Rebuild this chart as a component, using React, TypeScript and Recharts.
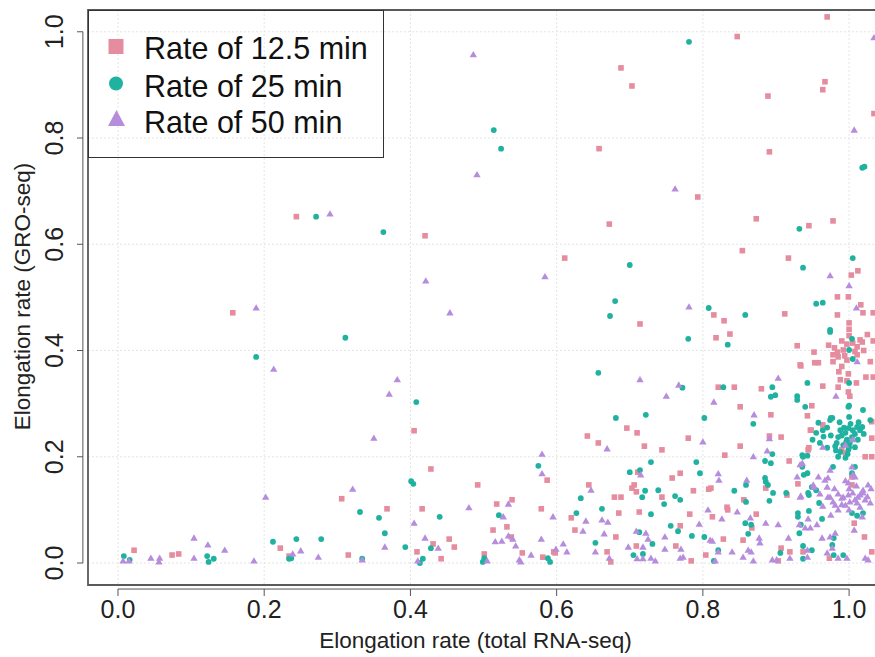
import React from "react";
import {
  ScatterChart,
  Scatter,
  XAxis,
  YAxis,
  CartesianGrid,
  ReferenceArea,
  ReferenceLine,
  Legend,
  Label,
} from "recharts";

const FONT = "'Liberation Sans', Arial, sans-serif";

const X_TICKS = [0, 0.2, 0.4, 0.6, 0.8, 1.0];
const Y_TICKS = [0, 0.2, 0.4, 0.6, 0.8, 1.0];

const X_DOMAIN: [number, number] = [-0.041, 1.045];
const Y_DOMAIN: [number, number] = [-0.0414, 1.041];

const SERIES_NAMES = ["Rate of 12.5 min", "Rate of 25 min", "Rate of 50 min"];
const SERIES_COLORS = ["#E68C9F", "#20B2A0", "#B68DDD"];

// [total RNA-seq rate, GRO-seq rate]
const RATE_12_5: [number, number][] = [
  [0.97, 1.028], [0.847, 0.991], [0.688, 0.932], [0.703, 0.898], [0.889, 0.879],
  [0.964, 0.891], [0.967, 0.906], [1.034, 0.846], [0.658, 0.78], [0.891, 0.774],
  [0.793, 0.689], [0.672, 0.638], [0.873, 0.648], [0.945, 0.635], [0.978, 0.644],
  [0.611, 0.574], [0.854, 0.588], [0.917, 0.574], [1.003, 0.542], [1.012, 0.55],
  [0.984, 0.501], [0.999, 0.501], [1.016, 0.486], [1.019, 0.471], [0.815, 0.467],
  [0.829, 0.456], [0.912, 0.469], [0.984, 0.467], [1.0, 0.452], [0.714, 0.45],
  [1.033, 0.471], [0.244, 0.652], [0.42, 0.616], [0.157, 0.471],
  [0.818, 0.424], [0.837, 0.431], [0.929, 0.409], [0.997, 0.412], [1.005, 0.414],
  [1.015, 0.42], [0.992, 0.401], [0.984, 0.397], [0.978, 0.392], [0.985, 0.388],
  [0.997, 0.382], [1.011, 0.392], [1.018, 0.416], [1.011, 0.407], [1.033, 0.418],
  [0.952, 0.397], [0.953, 0.377], [0.958, 0.377], [0.934, 0.371], [0.978, 0.379],
  [1.023, 0.35], [1.033, 0.35], [0.986, 0.36], [0.999, 0.356], [0.988, 0.345],
  [0.997, 0.343], [1.01, 0.339], [0.985, 0.331], [0.964, 0.333], [0.88, 0.328],
  [0.843, 0.331], [0.821, 0.331], [0.851, 0.294], [0.893, 0.279], [0.949, 0.296],
  [0.943, 0.277], [0.999, 0.322], [1.001, 0.314], [0.933, 0.373], [1.029, 0.379],
  [0.99, 0.418], [1.0, 0.428], [1.008, 0.398], [0.994, 0.39], [0.98, 0.405],
  [1.02, 0.4], [0.972, 0.41], [1.0, 0.44], [0.99, 0.37], [1.025, 0.43],
  [0.947, 0.25], [0.964, 0.26], [1.031, 0.266], [1.031, 0.235], [0.944, 0.213],
  [1.022, 0.2], [1.031, 0.2], [1.004, 0.162], [0.99, 0.213], [0.948, 0.25],
  [0.891, 0.239], [0.907, 0.237], [0.851, 0.22], [0.83, 0.203], [0.918, 0.192],
  [0.945, 0.217], [0.995, 0.207], [1.004, 0.147], [0.811, 0.141], [0.886, 0.141],
  [0.915, 0.128], [0.856, 0.119], [0.93, 0.149], [1.007, 0.075], [1.021, 0.049],
  [0.833, 0.105], [0.834, 0.1], [0.813, 0.087], [0.873, 0.092], [0.867, 0.066],
  [0.855, 0.043], [0.828, 0.045], [0.907, 0.028], [0.919, 0.021], [0.937, 0.021],
  [0.973, 0.009], [0.903, 0.004], [1.031, 0.021],
  [0.696, 0.254], [0.71, 0.245], [0.642, 0.239], [0.657, 0.226], [0.72, 0.22],
  [0.744, 0.213], [0.78, 0.235], [0.711, 0.171], [0.758, 0.16], [0.769, 0.169],
  [0.644, 0.147], [0.703, 0.141], [0.706, 0.147], [0.709, 0.134], [0.679, 0.124],
  [0.688, 0.124], [0.744, 0.124], [0.787, 0.136], [0.808, 0.139], [0.62, 0.085],
  [0.685, 0.094], [0.713, 0.096], [0.782, 0.092], [0.625, 0.062], [0.681, 0.049],
  [0.769, 0.07], [0.598, 0.019], [0.669, 0.021], [0.674, 0.002], [0.709, 0.032],
  [0.763, 0.032], [0.784, 0.004], [0.804, 0.015],
  [0.405, 0.249], [0.428, 0.177], [0.306, 0.121], [0.368, 0.102], [0.416, 0.102],
  [0.453, 0.045], [0.431, 0.036], [0.46, 0.03], [0.315, 0.015], [0.409, 0.021],
  [0.442, 0.008], [0.492, 0.147], [0.518, 0.111], [0.539, 0.119], [0.532, 0.068],
  [0.513, 0.062], [0.538, 0.049], [0.553, 0.019], [0.501, 0.017], [0.587, 0.156],
  [0.579, 0.102], [0.581, 0.011], [0.596, 0.021],
  [0.022, 0.024], [0.074, 0.015], [0.083, 0.017], [0.222, 0.028], [0.234, 0.013],
];

const RATE_25: [number, number][] = [
  [0.781, 0.981], [0.514, 0.815], [0.524, 0.78], [1.021, 0.746], [1.018, 0.744],
  [0.271, 0.652], [0.363, 0.623], [0.7, 0.561], [0.68, 0.493], [0.673, 0.465],
  [0.808, 0.48], [0.858, 0.467], [0.955, 0.488], [0.964, 0.49], [1.005, 0.574],
  [0.937, 0.556], [0.932, 0.629], [0.78, 0.422], [0.657, 0.358], [0.772, 0.33],
  [0.681, 0.273], [0.722, 0.279], [0.802, 0.273], [0.834, 0.411], [0.974, 0.435],
  [1.004, 0.422], [1.0, 0.401], [1.005, 0.384], [1.0, 0.339], [0.943, 0.339],
  [0.895, 0.331], [0.899, 0.316], [0.893, 0.313], [0.828, 0.331], [0.929, 0.314],
  [0.929, 0.307], [0.94, 0.294], [1.0, 0.296], [1.019, 0.288], [1.0, 0.275],
  [0.975, 0.273], [0.189, 0.388], [0.311, 0.424],
  [0.988, 0.25], [0.995, 0.245], [0.999, 0.254], [1.004, 0.237], [1.005, 0.25],
  [1.011, 0.256], [1.015, 0.25], [0.997, 0.232], [1.001, 0.226], [0.992, 0.222],
  [1.008, 0.218], [0.999, 0.213], [0.985, 0.237], [0.974, 0.269], [0.977, 0.273],
  [0.964, 0.25], [0.96, 0.226], [0.97, 0.217], [0.958, 0.264], [0.985, 0.2],
  [0.978, 0.181], [0.999, 0.294], [1.018, 0.256], [1.029, 0.269], [0.937, 0.2],
  [0.943, 0.202], [0.936, 0.181], [0.938, 0.166], [0.944, 0.132], [0.949, 0.143],
  [0.959, 0.113], [1.008, 0.181], [1.004, 0.169], [0.974, 0.439],
  [0.99, 0.24], [0.993, 0.255], [1.002, 0.262], [1.008, 0.243], [0.996, 0.228],
  [1.012, 0.232], [0.983, 0.226], [1.0, 0.218], [0.975, 0.24], [0.97, 0.255],
  [1.013, 0.265], [0.987, 0.265], [0.965, 0.238], [1.02, 0.243], [0.998, 0.205],
  [0.982, 0.212], [0.955, 0.245], [0.95, 0.232],
  [0.869, 0.262], [0.885, 0.192], [0.893, 0.188], [0.895, 0.205], [0.936, 0.203],
  [0.981, 0.22], [0.988, 0.209], [0.995, 0.198], [0.943, 0.169], [0.885, 0.16],
  [0.886, 0.153], [0.889, 0.147], [0.859, 0.147], [0.843, 0.136], [0.896, 0.132],
  [0.914, 0.132], [0.891, 0.117], [0.859, 0.115], [0.945, 0.128], [0.955, 0.137],
  [1.004, 0.094], [1.019, 0.094], [1.011, 0.089], [0.858, 0.075], [0.866, 0.072],
  [0.93, 0.094], [0.93, 0.087], [0.945, 0.098], [0.963, 0.083], [0.932, 0.056],
  [0.934, 0.072], [0.979, 0.047], [0.862, 0.055], [0.906, 0.019], [0.937, 0.032],
  [0.949, 0.024], [0.977, 0.034], [0.979, 0.015], [0.992, 0.015], [0.937, 0.008],
  [0.821, 0.024],
  [0.729, 0.19], [0.791, 0.19], [0.796, 0.169], [0.7, 0.171], [0.714, 0.175],
  [0.721, 0.136], [0.717, 0.124], [0.739, 0.137], [0.747, 0.111], [0.762, 0.126],
  [0.769, 0.119], [0.633, 0.122], [0.662, 0.102], [0.627, 0.094], [0.729, 0.092],
  [0.713, 0.058], [0.756, 0.07], [0.766, 0.06], [0.785, 0.051], [0.802, 0.049],
  [0.653, 0.038], [0.591, 0.002], [0.705, 0.015], [0.718, 0.017], [0.731, 0.036],
  [0.815, 0.004],
  [0.408, 0.303], [0.401, 0.154], [0.404, 0.149], [0.331, 0.096], [0.357, 0.085],
  [0.44, 0.087], [0.365, 0.056], [0.428, 0.028], [0.393, 0.03], [0.334, 0.008],
  [0.417, 0.008], [0.413, 0.0], [0.501, 0.009], [0.499, 0.002], [0.521, 0.09],
  [0.575, 0.183], [0.588, 0.009],
  [0.212, 0.04], [0.244, 0.045], [0.234, 0.008], [0.237, 0.009], [0.278, 0.045],
  [0.122, 0.013], [0.124, 0.002], [0.131, 0.008], [0.008, 0.013], [0.016, 0.006],
];

const RATE_50: [number, number][] = [
  [1.034, 0.989], [0.486, 0.957], [0.491, 0.731], [0.762, 0.704], [0.29, 0.657],
  [0.189, 0.48], [0.421, 0.531], [0.584, 0.539], [0.454, 0.471], [0.781, 0.482],
  [1.007, 0.815], [0.974, 0.541], [1.0, 0.522], [1.01, 0.48], [1.011, 0.379],
  [0.714, 0.345], [0.767, 0.335], [0.75, 0.314], [0.815, 0.303], [0.903, 0.348],
  [0.87, 0.279], [0.982, 0.314], [0.213, 0.365], [0.382, 0.345], [0.371, 0.318],
  [0.35, 0.235], [0.202, 0.124], [0.321, 0.139],
  [0.964, 0.218], [0.995, 0.222], [1.005, 0.232], [0.936, 0.188], [0.929, 0.162],
  [0.958, 0.162], [0.951, 0.147], [0.974, 0.175], [1.004, 0.181], [1.008, 0.162],
  [0.999, 0.151], [0.97, 0.143], [0.992, 0.124], [0.999, 0.128], [1.005, 0.132],
  [1.012, 0.124], [1.019, 0.132], [1.001, 0.115], [1.011, 0.113], [0.995, 0.109],
  [0.978, 0.115], [0.971, 0.124], [0.933, 0.124], [1.022, 0.119], [1.029, 0.113],
  [0.985, 0.13], [1.0, 0.14], [1.01, 0.145], [0.99, 0.11], [1.015, 0.105],
  [0.98, 0.14], [1.025, 0.125], [1.0, 0.1], [0.96, 0.13], [0.995, 0.155],
  [1.03, 0.14], [0.975, 0.09],
  [0.891, 0.234], [0.869, 0.2], [0.888, 0.211], [0.933, 0.185], [0.971, 0.16],
  [0.967, 0.156], [0.821, 0.168], [0.822, 0.156], [0.86, 0.156], [0.934, 0.126],
  [0.952, 0.143], [1.005, 0.166], [1.008, 0.119], [1.015, 0.128], [1.019, 0.137],
  [1.026, 0.147], [0.99, 0.122], [0.974, 0.124], [0.964, 0.107], [0.981, 0.109],
  [0.985, 0.1], [1.018, 0.087], [1.007, 0.062], [0.847, 0.096], [0.826, 0.083],
  [0.865, 0.085], [0.886, 0.075], [0.903, 0.072], [0.944, 0.083], [0.94, 0.066],
  [0.947, 0.066], [0.932, 0.072], [0.956, 0.072], [0.981, 0.056], [0.974, 0.049],
  [0.963, 0.047], [0.877, 0.047], [0.878, 0.038], [0.813, 0.041], [0.917, 0.047],
  [0.943, 0.024], [0.977, 0.028], [0.97, 0.019], [0.985, 0.009], [0.997, 0.009],
  [0.943, 0.011], [0.919, 0.009], [0.895, 0.006], [0.901, 0.006], [0.869, 0.004],
  [0.855, 0.011], [0.84, 0.021], [0.862, 0.024], [0.817, 0.004], [0.821, 0.021],
  [0.866, 0.021], [1.026, 0.006], [1.022, 0.009],
  [0.669, 0.215], [0.8, 0.228], [0.715, 0.166], [0.647, 0.137], [0.807, 0.1],
  [0.595, 0.087], [0.64, 0.079], [0.662, 0.081], [0.67, 0.077], [0.636, 0.06],
  [0.665, 0.055], [0.709, 0.06], [0.722, 0.056], [0.725, 0.045], [0.748, 0.049],
  [0.795, 0.073], [0.81, 0.043], [0.609, 0.036], [0.599, 0.026], [0.614, 0.021],
  [0.653, 0.021], [0.672, 0.009], [0.698, 0.03], [0.71, 0.008], [0.718, 0.03],
  [0.718, 0.008], [0.729, 0.009], [0.735, 0.004], [0.748, 0.026], [0.77, 0.026],
  [0.769, 0.009], [0.773, 0.011],
  [0.405, 0.075], [0.42, 0.047], [0.438, 0.028], [0.365, 0.03], [0.334, 0.006],
  [0.41, 0.004], [0.48, 0.104], [0.534, 0.111], [0.527, 0.087], [0.534, 0.051],
  [0.54, 0.045], [0.525, 0.041], [0.516, 0.04], [0.544, 0.032], [0.565, 0.015],
  [0.505, 0.004], [0.549, 0.006], [0.551, 0.002], [0.58, 0.205], [0.58, 0.168],
  [0.579, 0.045],
  [0.104, 0.047], [0.123, 0.034], [0.146, 0.024], [0.104, 0.009], [0.045, 0.009],
  [0.057, 0.009], [0.056, 0.002], [0.007, 0.004], [0.015, 0.004], [0.186, 0.004],
  [0.239, 0.017], [0.25, 0.023], [0.274, 0.011],
];

const toPoints = (rows: [number, number][]) => rows.map(([x, y]) => ({ x, y }));

const Square = (props: any) => {
  const { cx, cy, fill } = props;
  return <rect x={cx - 2.8} y={cy - 2.8} width={5.6} height={5.6} fill={fill} />;
};

const Dot = (props: any) => {
  const { cx, cy, fill } = props;
  return <circle cx={cx} cy={cy} r={2.9} fill={fill} />;
};

const Tri = (props: any) => {
  const { cx, cy, fill } = props;
  return (
    <path
      d={`M${cx},${cy - 3.7}L${cx + 3.7},${cy + 2.6}L${cx - 3.7},${cy + 2.6}Z`}
      fill={fill}
    />
  );
};

const XTick = (props: any) => {
  const { x, y, payload } = props;
  return (
    <g>
      <line x1={x} x2={x} y1={y + 4} y2={y + 11} stroke="#555" />
      <text x={x} y={y + 33} textAnchor="middle" fontSize={25} fill="#222" fontFamily={FONT}>
        {Number(payload.value).toFixed(1)}
      </text>
    </g>
  );
};

const YTick = (props: any) => {
  const { x, y, payload } = props;
  return (
    <g>
      <line x1={x - 5} x2={x - 11} y1={y} y2={y} stroke="#555" />
      <text
        x={x - 25}
        y={y}
        textAnchor="middle"
        fontSize={25}
        fill="#222"
        fontFamily={FONT}
        transform={`rotate(-90, ${x - 25}, ${y})`}
      >
        {Number(payload.value).toFixed(1)}
      </text>
    </g>
  );
};

const LegendBox = (props: any) => {
  const payload = props.payload || [];
  const rows = [48.5, 86.5, 122.5];
  const markers = [
    <rect key="s" x={20.5} y={29} width={15} height={15} fill={SERIES_COLORS[0]} />,
    <circle key="c" cx={28} cy={73.5} r={7} fill={SERIES_COLORS[1]} />,
    <path key="t" d="M28.5,100L37,116L20,116Z" fill={SERIES_COLORS[2]} />,
  ];
  return (
    <svg width={296} height={148} style={{ display: "block" }}>
      <rect x={0.5} y={0.5} width={295} height={147} fill="none" stroke="#333" />
      {SERIES_NAMES.map((name, i) => (
        <g key={name}>
          {markers[i]}
          <text x={56} y={rows[i]} fontSize={30.5} fill="#111" fontFamily={FONT}>
            {payload[i]?.value ?? name}
          </text>
        </g>
      ))}
    </svg>
  );
};

export default function App() {
  return (
    <div
      style={{
        position: "absolute",
        left: 0,
        top: 0,
        width: 875,
        height: 657,
        overflow: "hidden",
        background: "#fff",
      }}
    >
      <ScatterChart width={882} height={657} margin={{ top: 10, right: 0, bottom: 0, left: 0 }}>
        <CartesianGrid stroke="#e4e4e4" strokeDasharray="2 2" />
        <XAxis
          type="number"
          dataKey="x"
          domain={X_DOMAIN}
          ticks={X_TICKS}
          allowDataOverflow
          height={72}
          axisLine={false}
          tickLine={false}
          tickSize={0}
          tickMargin={0}
          tick={<XTick />}
          interval={0}
        >
          <Label
            content={(p: any) => {
              const vb = p.viewBox || { x: 88, y: 585 };
              return (
                <text
                  x={vb.x + 387.5}
                  y={vb.y + 63}
                  textAnchor="middle"
                  fontSize={22.5}
                  fill="#222"
                  fontFamily={FONT}
                >
                  Elongation rate (total RNA-seq)
                </text>
              );
            }}
          />
        </XAxis>
        <YAxis
          type="number"
          dataKey="y"
          domain={Y_DOMAIN}
          ticks={Y_TICKS}
          allowDataOverflow
          width={88}
          axisLine={false}
          tickLine={false}
          tickSize={0}
          tickMargin={0}
          tick={<YTick />}
          interval={0}
        >
          <Label
            content={(p: any) => {
              const vb = p.viewBox || { x: 0, y: 10 };
              const cx = vb.x + 30;
              const cy = vb.y + 286.5;
              return (
                <text
                  x={cx}
                  y={cy}
                  textAnchor="middle"
                  fontSize={22.5}
                  fill="#222"
                  fontFamily={FONT}
                  transform={`rotate(-90, ${cx}, ${cy})`}
                >
                  Elongation rate (GRO-seq)
                </text>
              );
            }}
          />
        </YAxis>
        <ReferenceArea
          x1={X_DOMAIN[0]}
          x2={X_DOMAIN[1]}
          y1={Y_DOMAIN[0]}
          y2={Y_DOMAIN[1]}
          fill="none"
          stroke="#5a5a5a"
          strokeWidth={1.8}
          ifOverflow="visible"
        />
        <ReferenceLine
          segment={[{ x: 0, y: -0.049 }, { x: 1, y: -0.049 }]}
          stroke="#555"
          ifOverflow="visible"
        />
        <ReferenceLine
          segment={[{ x: -0.048, y: 0 }, { x: -0.048, y: 1 }]}
          stroke="#555"
          ifOverflow="visible"
        />
        <Scatter
          name={SERIES_NAMES[0]}
          data={toPoints(RATE_12_5)}
          fill={SERIES_COLORS[0]}
          shape={Square}
          isAnimationActive={false}
        />
        <Scatter
          name={SERIES_NAMES[1]}
          data={toPoints(RATE_25)}
          fill={SERIES_COLORS[1]}
          shape={Dot}
          isAnimationActive={false}
        />
        <Scatter
          name={SERIES_NAMES[2]}
          data={toPoints(RATE_50)}
          fill={SERIES_COLORS[2]}
          shape={Tri}
          isAnimationActive={false}
        />
        <Legend
          layout="vertical"
          align="center"
          verticalAlign="middle"
          width={296}
          content={<LegendBox />}
          wrapperStyle={{ top: 10, left: 88, width: 296, height: 148, margin: 0, padding: 0 }}
        />
      </ScatterChart>
    </div>
  );
}
